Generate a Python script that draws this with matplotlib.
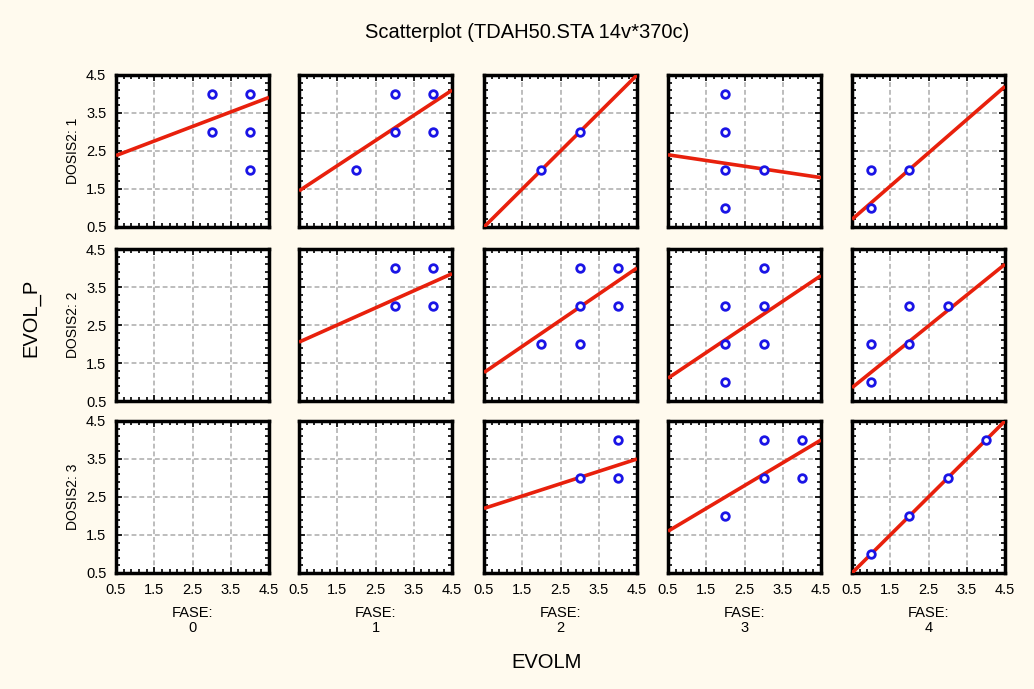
import matplotlib
matplotlib.use("Agg")
import numpy as np
import matplotlib.pyplot as plt
from matplotlib.ticker import FixedLocator

plt.rcParams['font.family'] = ['Liberation Sans', 'DejaVu Sans']

title = "Scatterplot (TDAH50.STA 14v*370c)"
x_label = "EVOLM"
y_label = "EVOL_P"
fase_levels = [0, 1, 2, 3, 4]
dosis_levels = [1, 2, 3]
ticks = [0.5, 1.5, 2.5, 3.5, 4.5]
tick_labels = ["0.5", "1.5", "2.5", "3.5", "4.5"]

# points per panel: (row dosis index, column fase index) -> x list, y list
pts_x = {
    (0, 0): [3, 4, 3, 4, 4],
    (0, 1): [3, 4, 3, 4, 2],
    (0, 2): [2, 3],
    (0, 3): [2, 2, 2, 3, 2],
    (0, 4): [1, 1, 2],
    (1, 0): [],
    (1, 1): [3, 4, 3, 4],
    (1, 2): [3, 4, 3, 4, 2, 3],
    (1, 3): [3, 2, 3, 2, 3, 2],
    (1, 4): [2, 3, 1, 2, 1],
    (2, 0): [],
    (2, 1): [],
    (2, 2): [4, 3, 4],
    (2, 3): [3, 4, 3, 4, 2],
    (2, 4): [1, 2, 3, 4],
}
pts_y = {
    (0, 0): [4, 4, 3, 3, 2],
    (0, 1): [4, 4, 3, 3, 2],
    (0, 2): [2, 3],
    (0, 3): [4, 3, 2, 2, 1],
    (0, 4): [2, 1, 2],
    (1, 0): [],
    (1, 1): [4, 4, 3, 3],
    (1, 2): [4, 4, 3, 3, 2, 2],
    (1, 3): [4, 3, 3, 2, 2, 1],
    (1, 4): [3, 3, 2, 2, 1],
    (2, 0): [],
    (2, 1): [],
    (2, 2): [4, 3, 3],
    (2, 3): [4, 4, 3, 3, 2],
    (2, 4): [1, 2, 3, 4],
}
# regression line values at x=0.5 and x=4.5
line_y0 = {
    (0, 0): 2.38, (0, 1): 1.45, (0, 2): 0.5, (0, 3): 2.4, (0, 4): 0.7,
    (1, 1): 2.05, (1, 2): 1.25, (1, 3): 1.1, (1, 4): 0.85,
    (2, 2): 2.2, (2, 3): 1.6, (2, 4): 0.5,
}
line_y1 = {
    (0, 0): 3.91, (0, 1): 4.1, (0, 2): 4.5, (0, 3): 1.8, (0, 4): 4.2,
    (1, 1): 3.85, (1, 2): 4.0, (1, 3): 3.8, (1, 4): 4.1,
    (2, 2): 3.5, (2, 3): 4.0, (2, 4): 4.5,
}

W, H = 1034, 689
fig = plt.figure(figsize=(W / 100, H / 100), dpi=100)
bg = "#FFFAEE"
fig.patch.set_facecolor(bg)

col_left = [116, 299, 484, 668, 852]
panel_w = 153
row_top = [75, 249, 421]
panel_h = 152

minor = np.arange(0.5, 4.51, 0.2)

for r in range(3):
    for c in range(5):
        ax = fig.add_axes([col_left[c] / W, 1 - (row_top[r] + panel_h) / H,
                           panel_w / W, panel_h / H])
        ax.set_facecolor("white")
        ax.set_xlim(0.5, 4.5)
        ax.set_ylim(0.5, 4.5)
        ax.set_xticks(ticks)
        ax.set_yticks(ticks)
        ax.xaxis.set_minor_locator(FixedLocator(minor))
        ax.yaxis.set_minor_locator(FixedLocator(minor))
        ax.grid(True, which='major', color="#BDBDBD", linestyle=(0, (2.5, 1.5)), linewidth=1.4)
        ax.tick_params(which='both', direction='in', top=True, right=True,
                       labelsize=10.5, pad=7, color='black')
        ax.tick_params(which='major', length=4, width=1.2)
        ax.tick_params(which='minor', length=3, width=1.2)
        for s in ax.spines.values():
            s.set_linewidth(2.5)
            s.set_color("black")
        if c == 0:
            ax.set_yticklabels(tick_labels)
        else:
            ax.set_yticklabels([])
        if r == 2:
            ax.set_xticklabels(tick_labels)
        else:
            ax.set_xticklabels([])
        key = (r, c)
        if key in line_y0:
            ax.plot([0.5, 4.5], [line_y0[key], line_y1[key]], color="#E8200C",
                    linewidth=2.6, zorder=3, solid_capstyle='butt')
        if pts_x[key]:
            ax.scatter(pts_x[key], pts_y[key], s=30, facecolors='white',
                       edgecolors="#1A14E6", linewidths=2.0, zorder=4,
                       clip_on=False)

# row labels
for r in range(3):
    yc = row_top[r] + panel_h / 2
    fig.text(73 / W, 1 - yc / H, f"DOSIS2: {dosis_levels[r]}", ha='center',
             va='center', fontsize=10, rotation=90)
# column labels
for c in range(5):
    xc = col_left[c] + panel_w / 2
    fig.text(xc / W, 1 - 613 / H, "FASE:", ha='center', va='center', fontsize=10.5)
    fig.text(xc / W, 1 - 628 / H, str(fase_levels[c]), ha='center', va='center',
             fontsize=10.5)

fig.text(527 / W, 1 - 33 / H, title, ha='center', va='center', fontsize=14.5)
fig.text(547 / W, 1 - 663 / H, x_label, ha='center', va='center', fontsize=14.5)
fig.text(31 / W, 1 - 318 / H, y_label, ha='center', va='center', fontsize=14.5,
         rotation=90)

fig.savefig("out.png", dpi=100, facecolor=bg)
